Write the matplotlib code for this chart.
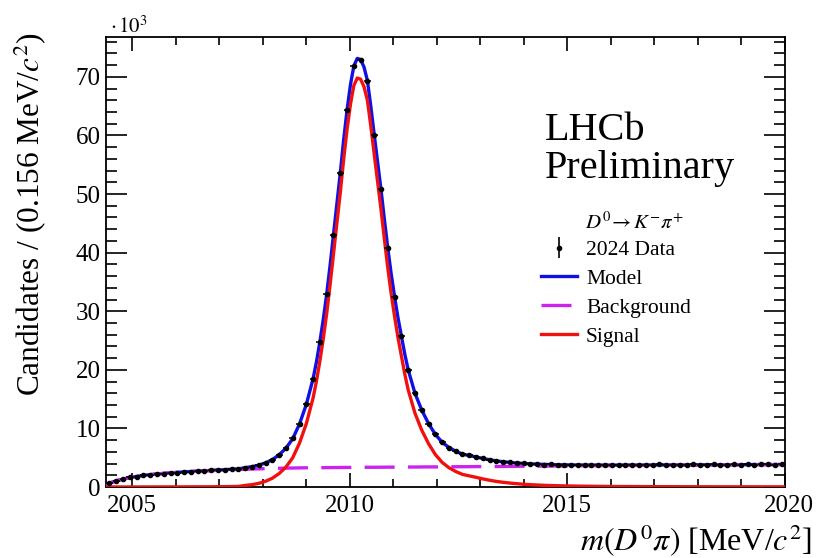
import numpy as np
import matplotlib
matplotlib.use("Agg")
import matplotlib.pyplot as plt
from matplotlib.ticker import MultipleLocator, FixedLocator
from matplotlib.transforms import ScaledTranslation

# ---------------- data (values in units of 10^3 candidates) ----------------
bin_width = 0.156
mass_low = 2004.4
mass_high = 2020.0
n_bins = 100

data_counts = [
    0.72, 1.08, 1.30, 1.63, 1.78, 1.99, 2.08, 2.25, 2.29, 2.44,
    2.47, 2.60, 2.62, 2.73, 2.75, 2.86, 2.88, 2.95, 3.06, 3.05,
    3.32, 3.46, 3.74, 4.13, 4.65, 5.52, 6.60, 8.28, 10.80, 14.12,
    18.45, 24.80, 32.90, 43.05, 53.55, 64.30, 71.90, 72.90, 69.30, 60.15,
    50.80, 40.80, 32.50, 25.80, 20.00, 16.00, 13.12, 10.80, 8.98, 7.66,
    6.72, 6.15, 5.58, 5.40, 5.10, 4.90, 4.62, 4.46, 4.30, 4.22,
    4.06, 4.03, 3.93, 3.92, 3.84, 3.86, 3.78, 3.80, 3.74, 3.79,
    3.76, 3.72, 3.80, 3.77, 3.81, 3.76, 3.80, 3.84, 3.78, 3.82,
    3.80, 3.86, 3.79, 3.84, 3.82, 3.80, 3.86, 3.83, 3.80, 3.87,
    3.84, 3.82, 3.88, 3.83, 3.86, 3.84, 3.89, 3.85, 3.83, 3.88,
]

# fit components, sampled at the range start, every bin centre, and range end
signal_curve = [
    0.005,
    0.005, 0.006, 0.007, 0.008, 0.009, 0.010, 0.012, 0.014, 0.016, 0.018,
    0.020, 0.023, 0.026, 0.030, 0.035, 0.040, 0.050, 0.060, 0.080, 0.100,
    0.27, 0.40, 0.62, 0.98, 1.50, 2.30, 3.40, 5.00, 7.50, 10.80,
    15.20, 21.50, 29.60, 39.70, 50.20, 61.00, 68.50, 69.60, 66.00, 56.80,
    47.40, 37.40, 29.10, 22.40, 16.60, 12.60, 9.70, 7.40, 5.55, 4.20,
    3.30, 2.65, 2.15, 1.90, 1.65, 1.38, 1.15, 0.95, 0.80, 0.67,
    0.56, 0.47, 0.40, 0.34, 0.29, 0.25, 0.22, 0.19, 0.17, 0.15,
    0.13, 0.12, 0.11, 0.10, 0.09, 0.085, 0.08, 0.075, 0.07, 0.065,
    0.06, 0.057, 0.054, 0.051, 0.048, 0.046, 0.044, 0.042, 0.040, 0.038,
    0.036, 0.035, 0.034, 0.033, 0.032, 0.031, 0.030, 0.030, 0.029, 0.029,
    0.028,
]

background_curve = [
    0.45,
    0.65, 1.05, 1.33, 1.60, 1.80, 1.96, 2.10, 2.21, 2.31, 2.40,
    2.48, 2.55, 2.62, 2.68, 2.74, 2.80, 2.85, 2.90, 2.95, 2.99,
    3.03, 3.07, 3.10, 3.14, 3.17, 3.20, 3.22, 3.24, 3.26, 3.28,
    3.29, 3.30, 3.31, 3.32, 3.33, 3.34, 3.35, 3.36, 3.37, 3.37,
    3.38, 3.39, 3.39, 3.40, 3.41, 3.41, 3.42, 3.43, 3.43, 3.44,
    3.45, 3.46, 3.46, 3.47, 3.48, 3.49, 3.50, 3.50, 3.51, 3.52,
    3.53, 3.54, 3.55, 3.56, 3.57, 3.58, 3.58, 3.59, 3.60, 3.61,
    3.62, 3.63, 3.64, 3.64, 3.65, 3.66, 3.67, 3.68, 3.68, 3.69,
    3.70, 3.71, 3.71, 3.72, 3.73, 3.73, 3.74, 3.75, 3.75, 3.76,
    3.77, 3.77, 3.78, 3.78, 3.79, 3.80, 3.80, 3.81, 3.81, 3.82,
    3.82,
]

# extra fit-curve samples at the bin edges 31..44 (around the peak)
peak_edge_index = [31, 32, 33, 34, 35, 36, 37, 38, 39, 40, 41, 42, 43, 44]
signal_peak_edges = [18.1, 25.3, 34.5, 45.0, 55.9, 65.3, 69.8,
                     68.3, 61.6, 52.1, 42.3, 33.0, 25.5, 19.3]
background_peak_edges = [3.29, 3.30, 3.31, 3.32, 3.33, 3.34, 3.35,
                         3.36, 3.365, 3.37, 3.375, 3.385, 3.39, 3.40]

x_major_ticks = [2005, 2010, 2015, 2020]
y_major_ticks = [0, 10, 20, 30, 40, 50, 60, 70]

# ---------------- assemble arrays ----------------
bin_centers = mass_low + bin_width * (np.arange(n_bins) + 0.5)
data = np.array(data_counts)
data_err = np.sqrt(data * 1000.0) / 1000.0

curve_x = np.concatenate([[mass_low], bin_centers, [mass_high],
                          mass_low + bin_width * np.array(peak_edge_index)])
curve_sig = np.concatenate([signal_curve, signal_peak_edges])
curve_bkg = np.concatenate([background_curve, background_peak_edges])
order = np.argsort(curve_x)
curve_x, curve_sig, curve_bkg = curve_x[order], curve_sig[order], curve_bkg[order]
curve_model = curve_sig + curve_bkg

# ---------------- style ----------------
plt.rcParams["font.family"] = ["Liberation Serif", "DejaVu Serif"]
plt.rcParams["mathtext.fontset"] = "stix"

W, H = 817, 558
fig = plt.figure(figsize=(W / 100, H / 100), dpi=100)
ax_l, ax_r, ax_t, ax_b = 106, 785, 37, 487
ax = fig.add_axes([ax_l / W, 1 - ax_b / H, (ax_r - ax_l) / W, (ax_b - ax_t) / H])

blue = "#1010e6"
red = "#f01010"
violet = "#cc22ee"

ax.plot(curve_x, curve_model, color=blue, lw=2.4, zorder=3)
ax.plot(curve_x, curve_bkg, color=violet, lw=2.4, dashes=(9, 4), zorder=4)
ax.plot(curve_x, curve_sig, color=red, lw=2.4, zorder=5)
ax.errorbar(bin_centers, data, xerr=bin_width / 2, yerr=data_err, fmt="o",
            color="black", ms=3.0, elinewidth=1.1, capsize=0, zorder=6)

ax.set_xlim(mass_low, mass_high)
ax.set_ylim(0, 76.8)

ax.xaxis.set_major_locator(FixedLocator(x_major_ticks))
ax.xaxis.set_minor_locator(MultipleLocator(1))
ax.yaxis.set_major_locator(FixedLocator(y_major_ticks))
ax.yaxis.set_minor_locator(MultipleLocator(2))

ax.tick_params(axis="both", which="both", direction="in", top=True, right=True,
               width=1.2, labelsize=18)
ax.tick_params(axis="x", which="major", length=10, pad=6)
ax.tick_params(axis="x", which="minor", length=5.5)
ax.tick_params(axis="y", which="major", length=15, pad=4)
ax.tick_params(axis="y", which="minor", length=8)
for s in ax.spines.values():
    s.set_linewidth(1.3)

# last x tick label sits a little to the right, as in the reference
last_tick = ax.xaxis.get_major_ticks()[-1]
last_tick.label1.set_transform(last_tick.label1.get_transform()
                               + ScaledTranslation(0.04, 0, fig.dpi_scale_trans))

# axis titles
fig.text(812 / W, 1 - 541 / H, r"$m(D^0\pi)$ [MeV/$c^2$]", ha="right", va="center",
         fontsize=23)
fig.text(30 / W, 1 - 32 / H, r"Candidates / (0.156 MeV/$c^2$)", ha="center", va="top",
         rotation=90, fontsize=22.5)
fig.text(110 / W, 1 - 33 / H, r"$\cdot\,10^3$", ha="left", va="baseline", fontsize=15)

# LHCb label
fig.text(545 / W, 1 - 140 / H, "LHCb", ha="left", va="baseline", fontsize=29)
fig.text(545 / W, 1 - 178 / H, "Preliminary", ha="left", va="baseline", fontsize=29)

# legend
fig.text(585 / W, 1 - 223 / H, r"$D^0\!\rightarrow K^{-}\pi^{+}$", ha="left", va="center",
         fontsize=15)
h_data = ax.errorbar([], [], yerr=[], fmt="o", color="black", ms=3, elinewidth=1.2, capsize=0)
h_model, = ax.plot([], [], color=blue, lw=2.4)
h_bkg, = ax.plot([], [], color=violet, lw=2.4, dashes=(9, 4))
h_sig, = ax.plot([], [], color=red, lw=2.4)
leg = ax.legend([h_data, h_model, h_bkg, h_sig],
                ["2024 Data", "Model", "Background", "Signal"],
                loc="upper left", bbox_to_anchor=(541 / W, 1 - 240 / H),
                bbox_transform=fig.transFigure, frameon=False, fontsize=15.5,
                handlelength=1.67, handletextpad=0.42, labelspacing=0.41,
                borderpad=0, borderaxespad=0)

fig.savefig("out.png", dpi=100)
